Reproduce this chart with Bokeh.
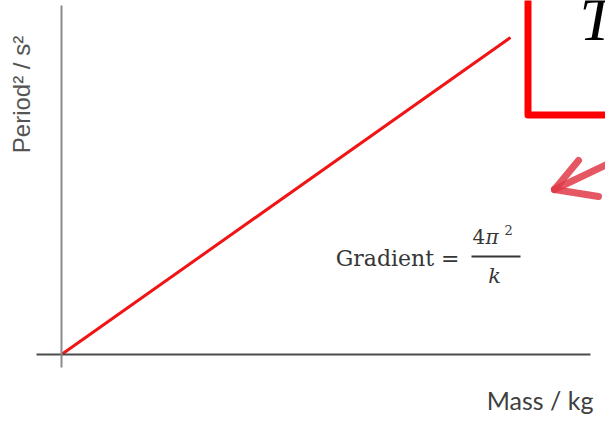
import math

from bokeh.embed import file_html
from bokeh.models import FixedTicker, Label, LinearAxis, Range1d
from bokeh.plotting import figure
from bokeh.resources import INLINE

# Period^2 against mass for a mass on a spring: a straight line through the origin
mass_kg = [0.0, 1.0]
period_sq_s2 = [0.0, 1.0]

W, H = 605, 423

# Data ranges: origin sits near the lower-left, the line rises to the upper right
X0, X1 = -61 / 449, 544 / 449
Y0, Y1 = -69 / 317, 354 / 317


def sx(px):
    """Canvas pixel column -> data x (frame fills the whole canvas)."""
    return X0 + px / W * (X1 - X0)


def sy(py):
    """Canvas pixel row (from top) -> data y."""
    return Y1 - py / H * (Y1 - Y0)


p = figure(
    width=W, height=H,
    x_range=Range1d(X0, X1), y_range=Range1d(Y0, Y1),
    x_axis_type=None, y_axis_type=None,
    output_backend="svg", toolbar_location=None,
    min_border=0, outline_line_color=None,
    background_fill_color="white", border_fill_color="white",
)
p.grid.visible = False

# Axes crossing at the origin, each overshooting the other a little
def bare_axis(**kw):
    return LinearAxis(
        ticker=FixedTicker(ticks=[]),
        major_tick_line_color=None, minor_tick_line_color=None,
        major_label_text_color=None, fixed_location=0, axis_line_width=2,
        **kw,
    )

x_axis = bare_axis(bounds=(sx(36), sx(590)), axis_line_color="#4d4d4d")
y_axis = bare_axis(bounds=(sy(367), sy(5)), axis_line_color="#8c8c8c")
p.add_layout(x_axis, "below")
p.add_layout(y_axis, "left")

# The data line
p.line(mass_kg, period_sq_s2, line_color="#f01414", line_width=3)


def label(px, py, text, size, font, color, align="left", style="normal", angle=0.0):
    p.add_layout(Label(
        x=sx(px), y=sy(py), text=text, angle=angle,
        text_align=align, text_baseline="middle", text_font_style=style,
        text_font=font, text_font_size=size, text_color=color,
    ))


# Axis titles
label(21, 84, "Period²   /  s²", "24px", "Liberation Sans", "#555555",
      align="center", angle=math.pi / 2)
label(593, 399, "Mass / kg", "25px", "Lato", "#404040", align="right")

# Gradient = 4π²/k
serif = "DejaVu Serif"
ink = "#363636"
label(459, 258, "Gradient =", "22px", serif, ink, align="right")
label(472, 236, "4", "20px", serif, ink)
label(485, 236, "π", "20px", serif, ink, style="italic")
label(504, 229, "2", "13px", serif, ink)
p.segment(x0=[sx(471)], y0=[sy(256)], x1=[sx(520)], y1=[sy(256)],
          line_color=ink, line_width=2)
label(494, 275, "k", "21px", serif, ink, align="center", style="italic")

# Red framed box with the equation's T, running off the corner
p.quad(left=[sx(527.5)], right=[sx(640)], top=[sy(-30)], bottom=[sy(114.5)],
       fill_color=None, line_color="#ff0000", line_width=7, line_join="round")
label(579, 18, "T", "62px", "Liberation Serif", "black", style="italic")

# Hand-drawn arrow pointing at the line
p.multi_line(
    xs=[[sx(615), sx(554)], [sx(578), sx(554)], [sx(554), sx(598)]],
    ys=[[sy(160), sy(189)], [sy(160), sy(189)], [sy(189), sy(196)]],
    line_color="#e03a48", line_width=7, line_alpha=0.85, line_cap="round",
)

open("out.html", "w").write(file_html(p, INLINE))
